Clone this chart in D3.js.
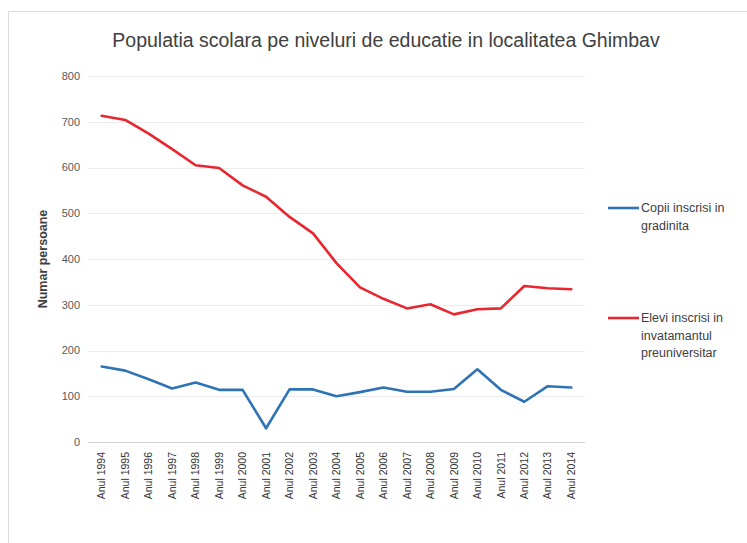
<!DOCTYPE html>
<html>
<head>
<meta charset="utf-8">
<script src="https://cdn.jsdelivr.net/npm/d3@7"></script>
<style>
  html, body { margin: 0; padding: 0; background: #fff; }
  svg { display: block; font-family: "Liberation Sans", Arial, sans-serif; }
</style>
</head>
<body>
<div id="chart"></div>
<script>
const years = ['Anul 1994', 'Anul 1995', 'Anul 1996', 'Anul 1997', 'Anul 1998', 'Anul 1999',
  'Anul 2000', 'Anul 2001', 'Anul 2002', 'Anul 2003', 'Anul 2004', 'Anul 2005', 'Anul 2006',
  'Anul 2007', 'Anul 2008', 'Anul 2009', 'Anul 2010', 'Anul 2011', 'Anul 2012', 'Anul 2013', 'Anul 2014'];
const copii = [165, 156, 137, 117, 130, 114, 114, 30, 115, 115, 100, 109, 119, 110, 110, 116, 159, 114, 88, 122, 119];
const elevi = [713, 704, 674, 640, 605, 599, 561, 536, 492, 456, 391, 338, 313, 292, 301, 279, 290, 292, 341, 336, 334];
const yTicks = [0, 100, 200, 300, 400, 500, 600, 700, 800];
const seriesNames = [['Copii inscrisi in', 'gradinita'], ['Elevi inscrisi in', 'invatamantul', 'preuniversitar']];
const seriesColors = ['#2e74b5', '#e8262f'];

const width = 747, height = 543;
const plotLeft = 88, plotRight = 585, plotTop = 76, plotBottom = 442;

const svg = d3.select('#chart').append('svg')
  .attr('width', width)
  .attr('height', height);

// chart frame (cut off at the right and bottom)
svg.append('rect')
  .attr('x', 8.5).attr('y', 11.5)
  .attr('width', width + 10).attr('height', height + 10)
  .attr('fill', '#fff')
  .attr('stroke', '#dcdcdc');

svg.append('text')
  .attr('x', 386).attr('y', 47)
  .attr('text-anchor', 'middle')
  .attr('font-size', 19.5)
  .attr('fill', '#404040')
  .text('Populatia scolara pe niveluri de educatie in localitatea Ghimbav');

const x = d3.scalePoint().domain(years).range([plotLeft + 2, plotRight - 2]).padding(0.5);
const y = d3.scaleLinear().domain([0, 800]).range([plotBottom, plotTop]);

// gridlines
svg.append('g')
  .selectAll('line')
  .data(yTicks)
  .join('line')
  .attr('x1', plotLeft).attr('x2', plotRight)
  .attr('y1', d => Math.round(y(d)) + 0.5).attr('y2', d => Math.round(y(d)) + 0.5)
  .attr('stroke', d => d === 0 ? '#d0d0d0' : '#ececec');

// y tick labels
svg.append('g')
  .selectAll('text')
  .data(yTicks)
  .join('text')
  .attr('x', 80).attr('y', d => y(d))
  .attr('dy', '0.35em')
  .attr('text-anchor', 'end')
  .attr('font-size', 11)
  .attr('fill', '#595959')
  .text(d => d);

svg.append('text')
  .attr('transform', `translate(47, ${(plotTop + plotBottom) / 2}) rotate(-90)`)
  .attr('text-anchor', 'middle')
  .attr('font-size', 12.5)
  .attr('font-weight', 'bold')
  .attr('fill', '#404040')
  .text('Numar persoane');

// x tick labels
svg.append('g')
  .selectAll('text')
  .data(years)
  .join('text')
  .attr('transform', d => `translate(${x(d)}, 452) rotate(-90)`)
  .attr('dy', '0.35em')
  .attr('text-anchor', 'end')
  .attr('font-size', 10.5)
  .attr('fill', '#333')
  .text(d => d);

const line = d3.line()
  .x((d, i) => x(years[i]))
  .y(d => y(d));

[copii, elevi].forEach((values, i) => {
  svg.append('path')
    .datum(values)
    .attr('fill', 'none')
    .attr('stroke', seriesColors[i])
    .attr('stroke-width', 2.6)
    .attr('stroke-linejoin', 'round')
    .attr('stroke-linecap', 'round')
    .attr('d', line);
});

// legend
const legendY = [208, 318];
seriesNames.forEach((lines, i) => {
  const g = svg.append('g').attr('transform', `translate(608, ${legendY[i]})`);
  g.append('line')
    .attr('x1', 0).attr('x2', 31)
    .attr('stroke', seriesColors[i])
    .attr('stroke-width', 2.6);
  g.append('text')
    .attr('x', 33)
    .attr('font-size', 12.5)
    .attr('fill', '#404040')
    .selectAll('tspan')
    .data(lines)
    .join('tspan')
    .attr('x', 33)
    .attr('y', (d, j) => j * 17.5)
    .attr('dy', '0.35em')
    .text(d => d);
});
</script>
</body>
</html>
